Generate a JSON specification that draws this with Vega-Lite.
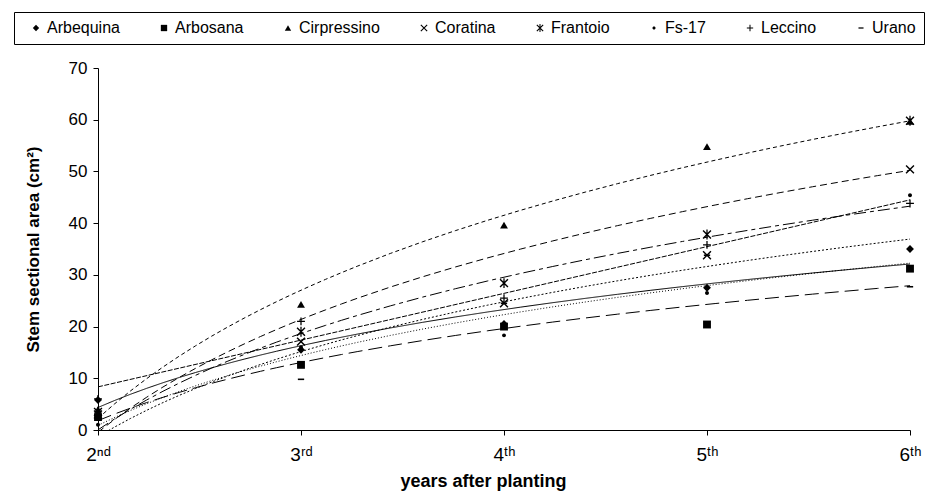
{
  "$schema": "https://vega.github.io/schema/vega-lite/v6.json",
  "autosize": {"type": "none"},
  "width": 812,
  "height": 362,
  "padding": {"left": 98, "top": 68, "right": 19, "bottom": 63},
  "background": "white",
  "config": {
    "font": "Liberation Sans",
    "view": {"stroke": null},
    "axis": {"grid": false, "domainColor": "black", "tickColor": "black", "labelColor": "black", "titleColor": "black", "labelFont": "Liberation Sans", "titleFont": "Liberation Sans"}
  },
  "data": {
    "values": [
      {"variety": "Arbequina", "t": 1, "area": 5.8},
      {"variety": "Arbequina", "t": 2, "area": 15.5},
      {"variety": "Arbequina", "t": 3, "area": 20.5},
      {"variety": "Arbequina", "t": 4, "area": 27.5},
      {"variety": "Arbequina", "t": 5, "area": 35.0},
      {"variety": "Arbosana", "t": 1, "area": 2.5},
      {"variety": "Arbosana", "t": 2, "area": 12.6},
      {"variety": "Arbosana", "t": 3, "area": 20.0},
      {"variety": "Arbosana", "t": 4, "area": 20.4},
      {"variety": "Arbosana", "t": 5, "area": 31.2},
      {"variety": "Cirpressino", "t": 1, "area": 4.0},
      {"variety": "Cirpressino", "t": 2, "area": 24.3},
      {"variety": "Cirpressino", "t": 3, "area": 39.6},
      {"variety": "Cirpressino", "t": 4, "area": 54.8},
      {"variety": "Cirpressino", "t": 5, "area": 59.7},
      {"variety": "Coratina", "t": 1, "area": 3.0},
      {"variety": "Coratina", "t": 2, "area": 17.1},
      {"variety": "Coratina", "t": 3, "area": 24.5},
      {"variety": "Coratina", "t": 4, "area": 33.8},
      {"variety": "Coratina", "t": 5, "area": 50.4},
      {"variety": "Frantoio", "t": 1, "area": 3.5},
      {"variety": "Frantoio", "t": 2, "area": 19.0},
      {"variety": "Frantoio", "t": 3, "area": 28.4},
      {"variety": "Frantoio", "t": 4, "area": 37.8},
      {"variety": "Frantoio", "t": 5, "area": 59.8},
      {"variety": "Fs-17", "t": 1, "area": 1.0},
      {"variety": "Fs-17", "t": 2, "area": 16.0},
      {"variety": "Fs-17", "t": 3, "area": 18.3},
      {"variety": "Fs-17", "t": 4, "area": 26.5},
      {"variety": "Fs-17", "t": 5, "area": 45.4},
      {"variety": "Leccino", "t": 1, "area": 6.0},
      {"variety": "Leccino", "t": 2, "area": 21.0},
      {"variety": "Leccino", "t": 3, "area": 25.5},
      {"variety": "Leccino", "t": 4, "area": 35.8},
      {"variety": "Leccino", "t": 5, "area": 43.8},
      {"variety": "Urano", "t": 1, "area": 2.0},
      {"variety": "Urano", "t": 2, "area": 9.8},
      {"variety": "Urano", "t": 3, "area": 24.5},
      {"variety": "Urano", "t": 4, "area": 33.8},
      {"variety": "Urano", "t": 5, "area": 27.7}
    ]
  },
  "layer": [
    {
      "transform": [
        {"filter": "datum.variety !== 'Leccino'"},
        {"regression": "area", "on": "t", "groupby": ["variety"], "method": "log", "extent": [1, 5]}
      ],
      "mark": {"type": "line", "color": "black", "strokeWidth": 1, "clip": true},
      "encoding": {
        "x": {"field": "t", "type": "quantitative"},
        "y": {"field": "area", "type": "quantitative"},
        "strokeDash": {
          "field": "variety", "type": "nominal", "legend": null,
          "scale": {
            "domain": ["Arbequina", "Arbosana", "Cirpressino", "Coratina", "Frantoio", "Fs-17", "Urano"],
            "range": [[1, 0], [14, 6], [4, 3], [12, 4, 4, 4], [7, 4], [2, 2], [1, 2]]
          }
        }
      }
    },
    {
      "transform": [
        {"filter": "datum.variety === 'Leccino'"},
        {"regression": "area", "on": "t", "method": "linear", "extent": [1, 5]}
      ],
      "mark": {"type": "line", "color": "black", "strokeWidth": 1, "strokeDash": [5, 1.5], "clip": true},
      "encoding": {
        "x": {"field": "t", "type": "quantitative"},
        "y": {"field": "area", "type": "quantitative"}
      }
    },
    {
      "mark": {"type": "point", "filled": true, "fill": "black", "strokeWidth": 0, "opacity": 1, "size": 62},
      "encoding": {
        "x": {
          "field": "t", "type": "quantitative",
          "scale": {"domain": [1, 5], "nice": false, "zero": false},
          "axis": {
            "values": [1, 2, 3, 4, 5],
            "labelExpr": "['','2ⁿᵈ','3ʳᵈ','4ᵗʰ','5ᵗʰ','6ᵗʰ'][datum.value]",
            "labelFlush": false,
            "labelFontSize": 19,
            "labelPadding": 10,
            "tickSize": 5,
            "title": "years after planting",
            "titleFontSize": 18,
            "titleFontWeight": "bold",
            "titlePadding": 8,
            "titleX": 385
          }
        },
        "y": {
          "field": "area", "type": "quantitative",
          "scale": {"domain": [0, 70], "nice": false},
          "axis": {
            "values": [0, 10, 20, 30, 40, 50, 60, 70],
            "labelFontSize": 17,
            "labelPadding": 6,
            "tickSize": 5,
            "title": "Stem sectional area (cm²)",
            "titleFontSize": 17,
            "titleFontWeight": "bold",
            "titlePadding": 26
          }
        },
        "shape": {
          "field": "variety", "type": "nominal",
          "scale": {
            "domain": ["Arbequina", "Arbosana", "Cirpressino", "Coratina", "Frantoio", "Fs-17", "Leccino", "Urano"],
            "range": [
              "diamond",
              "square",
              "triangle-up",
              "M-0.873,-1.127L1.127,0.873L0.873,1.127L-1.127,-0.873ZM-1.127,0.873L0.873,-1.127L1.127,-0.873L-0.873,1.127Z",
              "M-0.873,-1.127L1.127,0.873L0.873,1.127L-1.127,-0.873ZM-1.127,0.873L0.873,-1.127L1.127,-0.873L-0.873,1.127ZM-0.16,-1.25L0.16,-1.25L0.16,1.25L-0.16,1.25Z",
              "M-0.5,0A0.5,0.5 0 1,0 0.5,0A0.5,0.5 0 1,0 -0.5,0",
              "M-0.16,-1L0.16,-1L0.16,1L-0.16,1ZM-1,-0.16L1,-0.16L1,0.16L-1,0.16Z",
              "M-0.8,-0.2L0.8,-0.2L0.8,0.2L-0.8,0.2Z"
            ]
          },
          "legend": {
            "title": null,
            "orient": "none",
            "legendX": -84,
            "legendY": -56,
            "direction": "horizontal",
            "columns": 8,
            "columnPadding": 30,
            "padding": 8,
            "strokeColor": "black",
            "fillColor": "white",
            "symbolFillColor": "black",
            "symbolStrokeWidth": 0,
            "symbolSize": 40,
            "symbolOffset": 6,
            "labelFontSize": 16,
            "labelFont": "Liberation Sans",
            "labelColor": "black",
            "labelOffset": 3
          }
        }
      }
    }
  ]
}
